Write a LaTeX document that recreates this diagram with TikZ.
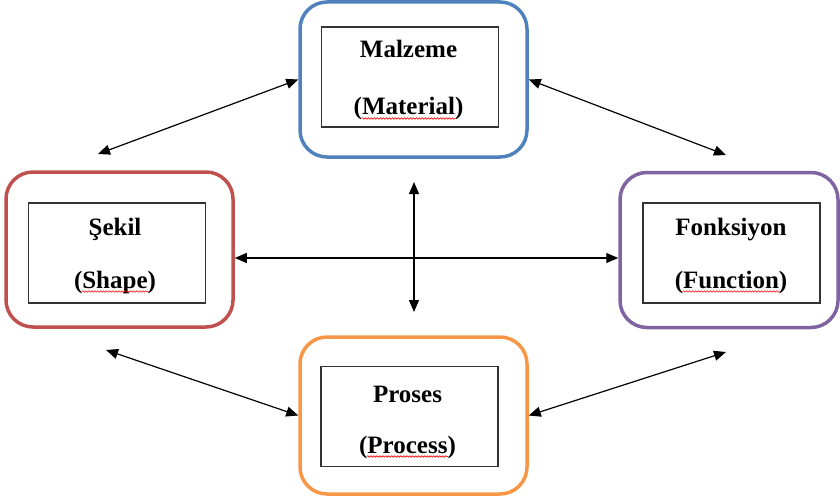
\documentclass[tikz,border=0pt]{standalone}
\usepackage{fontspec}
\setmainfont{Liberation Serif}
\usetikzlibrary{arrows.meta,decorations.pathmorphing}
\definecolor{cblue}{HTML}{4F81BD}
\definecolor{cred}{HTML}{C0504D}
\definecolor{cpurple}{HTML}{8064A2}
\definecolor{corange}{HTML}{F79646}
\tikzset{
  outerbox/.style={draw, line width=3.5pt, rounded corners=27pt, minimum width=227pt, minimum height=155pt, inner sep=0pt},
  innerbox/.style={draw=black!80, line width=1.3pt, minimum width=177pt, minimum height=100pt, inner sep=0pt},
  lbl/.style={anchor=base, font=\fontsize{25}{29}\selectfont\bfseries, inner sep=0pt},
  twoway/.style={line width=1.2pt, arrows={Triangle[length=12pt,width=10pt]-Triangle[length=12pt,width=10pt]}},
  spell/.style={draw=red, line width=0.6pt, decorate, decoration={snake, segment length=3pt, amplitude=0.8pt}}
}
\newcommand{\wavy}[1]{\draw[spell] ([xshift=8pt,yshift=-3.5pt]#1.base west) -- ([xshift=-8pt,yshift=-3.5pt]#1.base east);}
\begin{document}
\begin{tikzpicture}[x=1pt,y=-1pt]
\useasboundingbox (0,0) rectangle (840,500);
% outer boxes
\node[outerbox, draw=cblue] (matO) at (413.5,79.5) {};
\node[outerbox, draw=cred] (shpO) at (119.5,249.5) {};
\node[outerbox, draw=cpurple, minimum width=218pt] (funO) at (729,250) {};
\node[outerbox, draw=corange, minimum height=157pt] (proO) at (413.5,415.5) {};
% inner boxes
\node[innerbox] (matI) at (410,77) {};
\node[innerbox] (shpI) at (117,253) {};
\node[innerbox] (funI) at (731.5,253) {};
\node[innerbox] (proI) at (409.5,416.5) {};
% labels
\node[lbl] (matA) at (408.5,58) {Malzeme};
\node[lbl] (matB) at (408.5,115) {(Material)};
\node[lbl] (shpA) at (115,235) {Şekil};
\node[lbl] (shpB) at (115,288) {(Shape)};
\node[lbl] (funA) at (731,235) {Fonksiyon};
\node[lbl] (funB) at (731,288) {(Function)};
\node[lbl] (proA) at (407.5,402) {Proses};
\node[lbl] (proB) at (407.5,453) {(Process)};
\wavy{matB}
\wavy{shpB}
\wavy{funB}
\wavy{proB}
% free arrow ends
\coordinate (a1) at (98,154);
\coordinate (a2) at (726,155);
\coordinate (a3) at (106,350);
\coordinate (a4) at (726,352);
\coordinate (hc) at (414,258);
\coordinate (v1) at (414,182);
\coordinate (v2) at (414,312);
% connectors
\draw[twoway] (a1) -- (matO.west);
\draw[twoway] (matO.east) -- (a2);
\draw[twoway] (a3) -- (proO.west);
\draw[twoway] (proO.east) -- (a4);
\draw[twoway] (shpO.east |- hc) -- (funO.west |- hc);
\draw[twoway] (v1) -- (v2);
\end{tikzpicture}
\end{document}
